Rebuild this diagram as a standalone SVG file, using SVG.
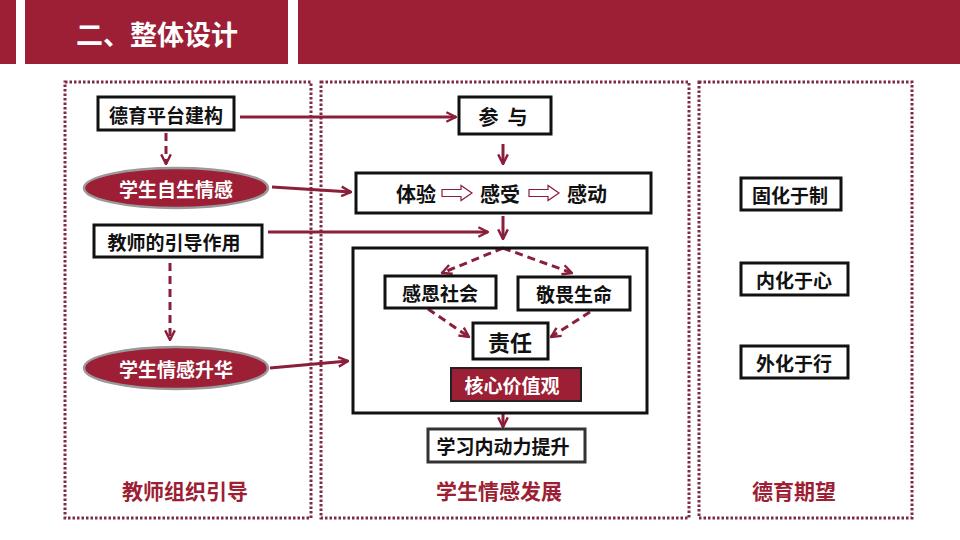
<svg xmlns="http://www.w3.org/2000/svg" width="960" height="540" viewBox="0 0 960 540">
<defs>
<style>
.bar{fill:#9c1f35}
.panel{fill:none;stroke:#7d2a46;stroke-width:3;stroke-dasharray:2.5 2}
.box{fill:#fff;stroke:#111;stroke-width:3}
.t{font-family:"Noto Sans CJK SC","Noto Sans CJK JP",sans-serif;font-weight:bold;font-size:19px;fill:#111;text-anchor:middle;dominant-baseline:central}
.w{fill:#fff}
.lbl{font-size:21px;fill:#9c1f35}
.ell{fill:#9c1f35;stroke:#9a9a9a;stroke-width:2.5}
.c{fill:none;stroke:#8b1e3a;stroke-width:3}
.d{stroke-dasharray:8 5}
.hollow{fill:#fff;stroke:#8b1e3a;stroke-width:1.2}
</style>
<marker id="ah" viewBox="0 0 10 10" refX="9" refY="5" markerWidth="4" markerHeight="4" orient="auto" markerUnits="strokeWidth">
<path d="M1,1 L9,5 L1,9" fill="none" stroke="#8b1e3a" stroke-width="2"/>
</marker>
</defs>
<rect width="960" height="540" fill="#fff"/>
<g id="header">
<rect class="bar" x="0" y="0" width="16" height="64"/>
<rect class="bar" x="25" y="0" width="263" height="64"/>
<rect class="bar" x="298" y="0" width="662" height="64"/>
<text class="t w" x="157" y="33" style="font-size:27px">二、整体设计</text>
</g>
<g id="panels">
<rect class="panel" x="65" y="82" width="246" height="436"/>
<rect class="panel" x="321" y="82" width="368" height="436"/>
<rect class="panel" x="699" y="82" width="213" height="436"/>
<text class="t lbl" x="185" y="490">教师组织引导</text>
<text class="t lbl" x="499" y="490">学生情感发展</text>
<text class="t lbl" x="794" y="490">德育期望</text>
</g>
<g id="connectors">
<line class="c" x1="240" y1="117" x2="456" y2="117" marker-end="url(#ah)"/>
<line class="c d" x1="166" y1="133" x2="166" y2="164" marker-end="url(#ah)"/>
<line class="c" x1="272" y1="187" x2="351" y2="192" marker-end="url(#ah)"/>
<line class="c" x1="268" y1="232" x2="488" y2="232" marker-end="url(#ah)"/>
<line class="c" x1="503" y1="144" x2="503" y2="164" marker-end="url(#ah)"/>
<line class="c" x1="503" y1="216" x2="503" y2="239" marker-end="url(#ah)"/>
<line class="c d" x1="503" y1="248" x2="442" y2="273" marker-end="url(#ah)"/>
<line class="c d" x1="503" y1="248" x2="572" y2="273" marker-end="url(#ah)"/>
<line class="c d" x1="428" y1="309" x2="469" y2="337" marker-end="url(#ah)"/>
<line class="c d" x1="590" y1="312" x2="551" y2="337" marker-end="url(#ah)"/>
<line class="c d" x1="170" y1="263" x2="170" y2="340" marker-end="url(#ah)"/>
<line class="c" x1="270" y1="368" x2="348" y2="361" marker-end="url(#ah)"/>
<line class="c" x1="503" y1="414" x2="503" y2="427" marker-end="url(#ah)"/>
</g>
<g id="n-platform"><rect class="box" x="98" y="97" width="136" height="33"/><text class="t" x="166" y="114">德育平台建构</text></g>
<g id="n-self"><ellipse class="ell" cx="176" cy="188" rx="92" ry="20"/><text class="t w" x="176" y="188">学生自生情感</text></g>
<g id="n-teacher"><rect class="box" x="94" y="225" width="168" height="32"/><text class="t" x="174" y="241">教师的引导作用</text></g>
<g id="n-sublim"><ellipse class="ell" cx="176" cy="368" rx="92" ry="21"/><text class="t w" x="176" y="368">学生情感升华</text></g>
<g id="n-join"><rect class="box" x="459" y="97" width="92" height="37"/><text class="t" x="503" y="116" style="font-size:20px" xml:space="preserve">参  与</text></g>
<g id="n-exp">
<rect class="box" x="356" y="173" width="295" height="40"/>
<text class="t" x="416" y="193" style="font-size:20px">体验</text>
<path class="hollow" d="M442,189.5 H461 V185.5 L472,193 L461,200.5 V196.5 H442 Z"/>
<text class="t" x="500" y="193" style="font-size:20px">感受</text>
<path class="hollow" d="M529,189.5 H548 V185.5 L559,193 L548,200.5 V196.5 H529 Z"/>
<text class="t" x="587" y="193" style="font-size:20px">感动</text>
</g>
<g id="n-big"><rect x="353" y="248" width="294" height="165" fill="none" stroke="#111" stroke-width="3"/></g>
<g id="n-grat"><rect class="box" x="385" y="276" width="111" height="32"/><text class="t" x="440" y="292">感恩社会</text></g>
<g id="n-awe"><rect class="box" x="518" y="277" width="112" height="33"/><text class="t" x="574" y="293">敬畏生命</text></g>
<g id="n-resp"><rect class="box" x="473" y="323" width="75" height="36"/><text class="t" x="510" y="341" style="font-size:22px">责任</text></g>
<g id="n-core"><rect x="451" y="368" width="130" height="33" fill="#9c1f35" stroke="#222" stroke-width="2"/><text class="t w" x="512" y="384">核心价值观</text></g>
<g id="n-drive"><rect class="box" x="428" y="429" width="157" height="33" style="stroke:#333"/><text class="t" x="503" y="445">学习内动力提升</text></g>
<g id="n-fix"><rect class="box" x="741" y="178" width="100" height="32"/><text class="t" x="790" y="194">固化于制</text></g>
<g id="n-in"><rect class="box" x="741" y="263" width="107" height="32"/><text class="t" x="794" y="279">内化于心</text></g>
<g id="n-out"><rect class="box" x="741" y="346" width="107" height="32"/><text class="t" x="794" y="362">外化于行</text></g>
</svg>
